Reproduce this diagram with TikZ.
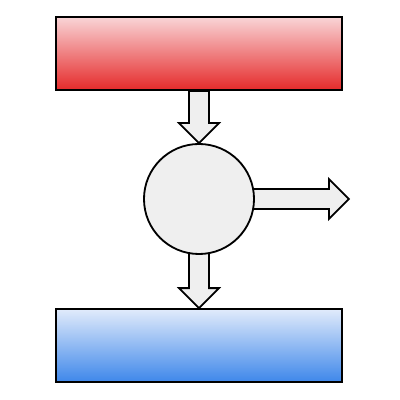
\documentclass[tikz,border=0pt]{standalone}
\usetikzlibrary{positioning,calc,backgrounds}

\definecolor{hothi}{HTML}{F9D4D6}
\definecolor{hotlo}{HTML}{E52A2A}
\definecolor{coldhi}{HTML}{E1EBFB}
\definecolor{coldlo}{HTML}{3E87EA}
\definecolor{core}{HTML}{EFEFEF}

\begin{document}
\begin{tikzpicture}[x=0.025cm, y=0.025cm, line width=1.3pt,
  tank/.style={draw, minimum width=7.15cm, minimum height=1.825cm, inner sep=0pt},
  hot/.style={tank, top color=hothi, bottom color=hotlo},
  cold/.style={tank, top color=coldhi, bottom color=coldlo},
  engine/.style={draw, circle, fill=core, minimum size=2.75cm, inner sep=0pt},
  flow/.style={draw, fill=core, line width=1.3pt, line join=miter}]

 \useasboundingbox (0,0) rectangle (400,400);

 %nodes
 \node[engine] (eng) at (199,201) {};
 \node[hot, above=1.3cm of eng] (hot) {};
 \node[cold, below=1.33cm of eng] (cold) {};
 \coordinate (out) at ($(eng.east)+(94,0)$);

 %arrows
 \def\sw{10}
 \def\hw{20}
 \def\hl{20}
 \begin{scope}[on background layer]
  \draw[flow] ($(hot.south)+(-\sw,0)$) -- ($(eng.north)+(-\sw,\hl)$) -- ($(eng.north)+(-\hw,\hl)$)
     -- (eng.north) -- ($(eng.north)+(\hw,\hl)$) -- ($(eng.north)+(\sw,\hl)$) -- ($(hot.south)+(\sw,0)$) -- cycle;
  \draw[flow] ($(eng.center)+(-\sw,0)$) -- ($(cold.north)+(-\sw,\hl)$) -- ($(cold.north)+(-\hw,\hl)$)
     -- (cold.north) -- ($(cold.north)+(\hw,\hl)$) -- ($(cold.north)+(\sw,\hl)$) -- ($(eng.center)+(\sw,0)$) -- cycle;
  \draw[flow] ($(eng.center)+(0,\sw)$) -- ($(out)+(-\hl,\sw)$) -- ($(out)+(-\hl,\hw)$)
     -- (out) -- ($(out)+(-\hl,-\hw)$) -- ($(out)+(-\hl,-\sw)$) -- ($(eng.center)+(0,-\sw)$) -- cycle;
 \end{scope}

\end{tikzpicture}
\end{document}
